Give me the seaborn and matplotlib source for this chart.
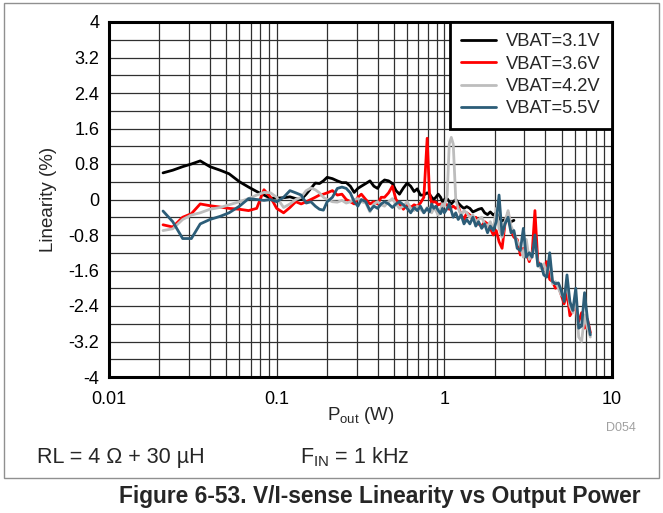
import numpy as np
import pandas as pd
import matplotlib
matplotlib.use('Agg')
from matplotlib import pyplot as plt
from matplotlib.patches import Rectangle
import seaborn as sns

# output power (W), shared by all supply voltages
p_out = [0.021, 0.024, 0.0275, 0.031, 0.035, 0.040, 0.046, 0.052, 0.060, 0.068,
         0.076, 0.084, 0.092, 0.100, 0.110, 0.120, 0.130, 0.140, 0.150, 0.160,
         0.170, 0.180, 0.190, 0.200, 0.215, 0.230, 0.245, 0.260, 0.275, 0.290,
         0.305, 0.320, 0.340, 0.360, 0.380, 0.400, 0.420, 0.440, 0.465, 0.490,
         0.515, 0.540, 0.570, 0.600, 0.630, 0.660, 0.690, 0.720, 0.755, 0.790,
         0.815, 0.840, 0.865, 0.890, 0.920, 0.950, 0.975, 1.00, 1.04, 1.07,
         1.10, 1.13, 1.17, 1.21, 1.26, 1.31, 1.36, 1.42, 1.48, 1.54,
         1.60, 1.67, 1.74, 1.81, 1.88, 1.96, 2.04, 2.12, 2.21, 2.30,
         2.40, 2.50, 2.60, 2.72, 2.84, 2.96, 3.08, 3.21, 3.34, 3.47,
         3.61, 3.76, 3.92, 4.08, 4.25, 4.42, 4.60, 4.79, 4.98, 5.18,
         5.39, 5.61, 5.84, 6.08, 6.33, 6.59, 6.86, 7.14, 7.43]

# linearity (%) per VBAT
lin_31 = [0.60, 0.66, 0.74, 0.80, 0.87, 0.74, 0.66, 0.58, 0.40, 0.28,
          0.18, 0.10, 0.03, 0.03, 0.04, 0.06, 0.02, 0.00, 0.12, 0.25,
          0.37, 0.36, 0.42, 0.50, 0.47, 0.42, 0.38, 0.38, 0.30, 0.16,
          0.25, 0.30, 0.36, 0.42, 0.30, 0.25, 0.38, 0.44, 0.42, 0.36,
          0.20, 0.12, 0.26, 0.37, 0.30, 0.18, 0.24, 0.10, 0.10, 0.15,
          0.12, 0.05, 0.00, 0.05, 0.12, 0.05, -0.05, 0.00, 0.02, -0.05,
          -0.10, -0.05, 0.00, -0.08, -0.15, -0.20, -0.16, -0.20, -0.28, -0.25,
          -0.22, -0.20, -0.30, -0.34, -0.28, -0.35, -0.30, -0.42, -0.48, -0.45,
          -0.47, -0.50, -0.47]

lin_36 = [-0.57, -0.62, -0.40, -0.32, -0.10, -0.14, -0.17, -0.20, -0.22, -0.25,
          -0.20, 0.22, 0.05, -0.20, -0.30, -0.18, -0.05, -0.10, -0.05, 0.00,
          0.05, 0.10, 0.12, 0.15, 0.20, 0.10, 0.12, 0.00, -0.05, -0.10,
          0.05, 0.12, 0.00, -0.10, -0.05, -0.10, 0.05, 0.05, 0.15, 0.30,
          0.00, -0.10, -0.22, -0.10, -0.18, -0.12, -0.15, -0.08, 0.05, 1.38,
          0.15, -0.08, -0.05, -0.06, -0.12, -0.10, -0.15, -0.10, -0.12, -0.22,
          -0.18, -0.15, -0.20, -0.15, -0.35, -0.45, -0.30, -0.35, -0.45, -0.40,
          -0.55, -0.60, -0.50, -0.55, -0.65, -0.80, -0.70, -0.95, -1.10, -0.55,
          -0.30, -0.70, -0.85, -0.90, -1.25, -1.10, -1.20, -1.40, -1.20, -0.25,
          -1.40, -1.50, -1.55, -1.40, -1.80, -1.85, -2.00, -1.95, -2.15, -2.35,
          -2.10, -2.62, -2.50, -2.45, -2.75, -2.55, -2.90, -2.70, -3.00]

lin_42 = [-0.70, -0.66, -0.45, -0.35, -0.30, -0.22, -0.18, -0.12, -0.05, 0.02,
          0.10, 0.16, 0.15, 0.05, -0.18, -0.10, 0.00, 0.05, 0.20, 0.26,
          0.22, 0.15, 0.05, 0.00, -0.05, -0.06, -0.02, -0.08, -0.05, 0.00,
          0.02, -0.05, -0.08, -0.28, -0.10, -0.05, -0.12, -0.15, -0.05, 0.02,
          -0.10, -0.20, -0.15, -0.05, -0.20, -0.25, -0.15, -0.22, -0.30, -0.18,
          -0.25, -0.30, -0.20, -0.25, -0.35, -0.20, -0.10, -0.15, 0.10, 1.25,
          1.40, 1.25, 0.00, -0.20, -0.35, -0.25, -0.30, -0.40, -0.35, -0.50,
          -0.45, -0.40, -0.55, -0.60, -0.50, -0.70, -0.20, -0.65, -0.85, -0.50,
          -0.25, -0.60, -0.75, -0.95, -1.05, -1.30, -0.90, -1.35, -1.25, -0.95,
          -1.45, -1.55, -1.45, -1.70, -1.35, -1.90, -1.85, -2.00, -2.15, -2.20,
          -1.90, -2.40, -2.55, -2.20, -3.10, -3.20, -2.60, -2.90, -3.10]

lin_55 = [-0.26, -0.50, -0.88, -0.88, -0.55, -0.45, -0.38, -0.30, -0.15, 0.02,
          0.00, -0.02, 0.00, -0.05, 0.05, 0.20, 0.15, 0.10, -0.08, -0.05,
          -0.15, -0.22, -0.24, -0.05, 0.05, 0.25, 0.28, 0.25, 0.15, -0.05,
          -0.15, 0.00, -0.05, -0.25, -0.15, -0.20, -0.10, -0.05, -0.10, -0.18,
          -0.10, -0.05, -0.12, -0.20, -0.30, -0.18, -0.25, -0.15, -0.30, -0.20,
          -0.28, -0.10, -0.20, -0.15, -0.25, -0.32, -0.20, -0.30, -0.20, -0.10,
          -0.25, -0.40, -0.30, -0.45, -0.35, -0.55, -0.45, -0.55, -0.40, -0.60,
          -0.50, -0.65, -0.55, -0.75, -0.60, -0.70, -0.50, 0.10, -0.80, -0.55,
          -0.40, -0.75, -0.70, -1.10, -1.15, -0.65, -1.30, -1.20, -1.30, -0.80,
          -1.50, -1.45, -1.70, -1.75, -1.20, -1.85, -1.90, -1.88, -2.05, -2.30,
          -1.70, -2.30, -2.50, -2.00, -2.90, -2.85, -2.10, -2.70, -3.05]

labels = ['VBAT=3.1V', 'VBAT=3.6V', 'VBAT=4.2V', 'VBAT=5.5V']
colors = ['#000000', '#FF0000', '#BDBDBD', '#2C5D78']

frames = []
for lab, vals in zip(labels, [lin_31, lin_36, lin_42, lin_55]):
    frames.append(pd.DataFrame({'P': p_out[:len(vals)], 'lin': vals, 'VBAT': lab}))
df = pd.concat(frames, ignore_index=True)

sns.set_style('white')
plt.rcParams['font.family'] = ['Liberation Sans', 'DejaVu Sans']
plt.rcParams['mathtext.fontset'] = 'custom'
plt.rcParams['mathtext.rm'] = 'Liberation Sans'

fig = plt.figure(figsize=(6.63, 5.13), dpi=100)
ax = fig.add_axes([109 / 663, 1 - 377 / 513, 503 / 663, 355 / 513])

sns.lineplot(data=df, x='P', y='lin', hue='VBAT', palette=colors,
             estimator=None, sort=False, linewidth=2.0, ax=ax)

ax.set_xscale('log')
ax.set_xlim(0.01, 10)
ax.set_ylim(-4, 4)
yt = np.round(np.arange(-4, 4.01, 0.8), 1)
ax.set_yticks(yt)
ax.set_yticklabels(['%g' % (v if abs(v) > 1e-9 else 0) for v in yt])
ax.set_yticks(np.arange(-3.6, 4, 0.8), minor=True)
ax.set_xticks([0.01, 0.1, 1, 10])
ax.set_xticklabels(['0.01', '0.1', '1', '10'])
ax.tick_params(which='both', length=0, labelsize=13, colors='black')
ax.tick_params(axis='x', pad=10)
ax.tick_params(axis='y', pad=7)
ax.grid(which='both', color='#303030', linewidth=0.9)
for s in ax.spines.values():
    s.set_visible(True)
    s.set_color('black')
    s.set_linewidth(2.2)

ax.set_xlabel(r'P$_{\rm out}$ (W)', fontsize=13.5, labelpad=-2)
ax.set_ylabel('Linearity (%)', fontsize=13.5, labelpad=8)

leg = ax.legend(loc='upper right', frameon=True, fancybox=False, framealpha=1,
                edgecolor='black', borderaxespad=0, fontsize=13.2,
                handlelength=1.9, handletextpad=0.55, labelspacing=0.29,
                borderpad=0.62)
leg.get_frame().set_linewidth(2)
for line in leg.get_lines():
    line.set_linewidth(2)

fig.text(606 / 663, 1 - 428 / 513, 'D054', fontsize=9, color='#a0a0a0', va='center')
fig.text(37 / 663, 1 - 457 / 513, 'RL = 4 Ω + 30 µH', fontsize=15.5, va='center')
fig.text(300 / 663, 1 - 457 / 513, r'F$_{\rm IN}$ = 1 kHz', fontsize=15.5, va='center')
fig.text(380 / 663, 1 - 497 / 513, 'Figure 6-53. V/I-sense Linearity vs Output Power',
         fontsize=16.4, fontweight='bold', ha='center', va='center')

fig.patches.append(Rectangle((4 / 663, 1 - 478 / 513), 655 / 663, 475 / 513,
                             transform=fig.transFigure, fill=False,
                             edgecolor='#909090', linewidth=1))

fig.savefig('out.png', dpi=100)
